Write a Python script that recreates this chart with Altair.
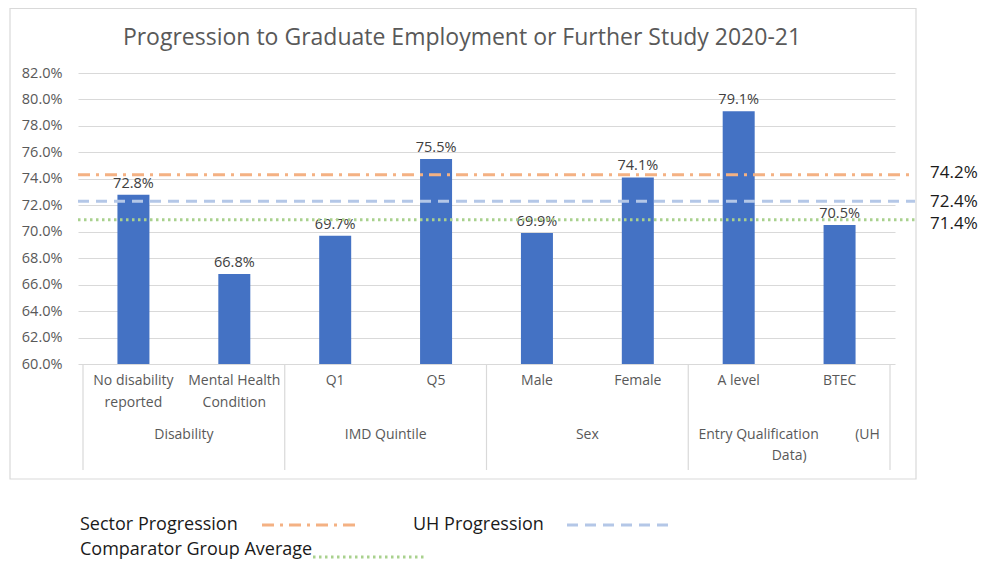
import altair as alt
import pandas as pd

# ---- data ----
title = "Progression to Graduate Employment or Further Study 2020-21"
categories = ["No disability\nreported", "Mental Health\nCondition", "Q1", "Q5",
              "Male", "Female", "A level", "BTEC"]
values = [72.8, 66.8, 69.7, 75.5, 69.9, 74.1, 79.1, 70.5]
groups = ["Disability", "IMD Quintile", "Sex",
          "Entry Qualification\u00a0\u00a0\u00a0\u00a0\u00a0\u00a0\u00a0\u00a0\u00a0\u00a0(UH\nData)"]
ref_names = ["Sector Progression", "UH Progression", "Comparator Group Average"]
ref_lines = [74.3, 72.3, 70.9]          # where the reference lines are drawn
ref_labels = ["74.2%", "72.4%", "71.4%"]  # their printed labels
y_ticks = [60, 62, 64, 66, 68, 70, 72, 74, 76, 78, 80, 82]

# ---- styles ----
FONT = "Open Sans"
GRID = "#D9D9D9"
TXT = "#595959"
BAR = "#4472C4"
ref_colors = ["#F4B183", "#B4C7E7", "#A9D18E"]
ref_dash = [[12, 6, 3, 6], [11, 7], [2.5, 3.5]]
label_dy = [-2, 1, 4]
W, H = 817, 291

bars = pd.DataFrame({
    "pos": [i + 0.5 for i in range(len(values))],
    "value": values,
    "cat": categories,
    "label": [f"{v:.1f}%" for v in values],
})
grp = pd.DataFrame({"pos": [2 * i + 1 for i in range(len(groups))], "g": groups})
seps = pd.DataFrame({"pos": [2 * i for i in range(len(groups) + 1)]})
one = pd.DataFrame({"a": [0]})

xs = alt.Scale(domain=[0, 8], nice=False, zero=False)
ys = alt.Scale(domain=[60, 82], nice=False, zero=False)
AX = alt.Axis(values=y_ticks, labelExpr="format(datum.value, '.1f') + '%'",
              grid=True, gridColor=GRID, gridWidth=1.2, domain=False, ticks=False,
              labelOverlap=False, labelBound=False,
              labelPadding=16, labelFont=FONT, labelFontSize=14.5, labelColor=TXT)
X = lambda f: alt.X(f, type="quantitative", scale=xs, axis=None)
Y = lambda f: alt.Y(f, type="quantitative", scale=ys, axis=AX, title=None)

border = alt.Chart(one).mark_rect(fillOpacity=0, stroke=GRID, strokeWidth=1.2).encode(
    x=alt.value(-68), x2=alt.value(838), y=alt.value(-64.5), y2=alt.value(406))

bar_layer = alt.Chart(bars).mark_bar(size=32, orient="vertical", color=BAR).encode(
    x=X("pos"), y=Y("value"), y2=alt.datum(60))

bar_text = alt.Chart(bars).mark_text(baseline="bottom", dy=-4, font=FONT, fontSize=14.5,
                                     color="#404040").encode(
    x=X("pos"), y=Y("value"), text="label:N")

cat_text = alt.Chart(bars).mark_text(baseline="top", lineBreak="\n", lineHeight=22,
                                     font=FONT, fontSize=14, color=TXT).encode(
    x=X("pos"), y=alt.value(H + 10), text="cat:N")

grp_text = alt.Chart(grp).mark_text(baseline="top", lineBreak="\n", lineHeight=21,
                                    font=FONT, fontSize=14, color=TXT).encode(
    x=X("pos"), y=alt.value(H + 64), text="g:N")

sep_rules = alt.Chart(seps).mark_rule(color=GRID, strokeWidth=1.2).encode(
    x=X("pos"), y=alt.value(H), y2=alt.value(H + 106))

layers = [border, bar_layer, bar_text, cat_text, grp_text, sep_rules]

for i in range(3):
    d = pd.DataFrame({"v": [ref_lines[i]], "t": [ref_labels[i]]})
    layers.append(alt.Chart(d).mark_rule(color=ref_colors[i], strokeWidth=3,
                                         strokeDash=ref_dash[i]).encode(
        x=alt.value(0), x2=alt.value(W + 20), y=Y("v")))
    layers.append(alt.Chart(d).mark_text(align="left", baseline="middle", font=FONT,
                                         fontSize=17, color="#1a1a1a",
                                         dy=label_dy[i]).encode(
        x=alt.value(W + 35), y=Y("v"), text="t:N"))

# title
layers.append(alt.Chart(one).mark_text(text=title, font=FONT, fontSize=23, color=TXT,
                                       baseline="middle").encode(
    x=alt.value(384), y=alt.value(-35)))

# manual legend
leg_pos = [(2, 452, 184, 282), (335, 452, 489, 597), (2, 477, 235, 347)]
for i in range(3):
    tx, ty, l0, l1 = leg_pos[i]
    layers.append(alt.Chart(one).mark_text(text=ref_names[i], align="left", baseline="middle",
                                           font=FONT, fontSize=18, color="#1a1a1a").encode(
        x=alt.value(tx), y=alt.value(ty)))
    layers.append(alt.Chart(one).mark_rule(color=ref_colors[i], strokeWidth=3,
                                           strokeDash=ref_dash[i]).encode(
        x=alt.value(l0), x2=alt.value(l1), y=alt.value(ty + (7 if i == 2 else 0))))

chart = alt.layer(*layers).properties(
    width=W, height=H,
    background="white",
    autosize=alt.AutoSizeParams(type="none"),
    padding={"left": 70, "top": 65, "right": 83, "bottom": 195},
).configure_view(strokeWidth=0)

chart.save("out.html", embed_options={"renderer": "svg", "actions": False})
